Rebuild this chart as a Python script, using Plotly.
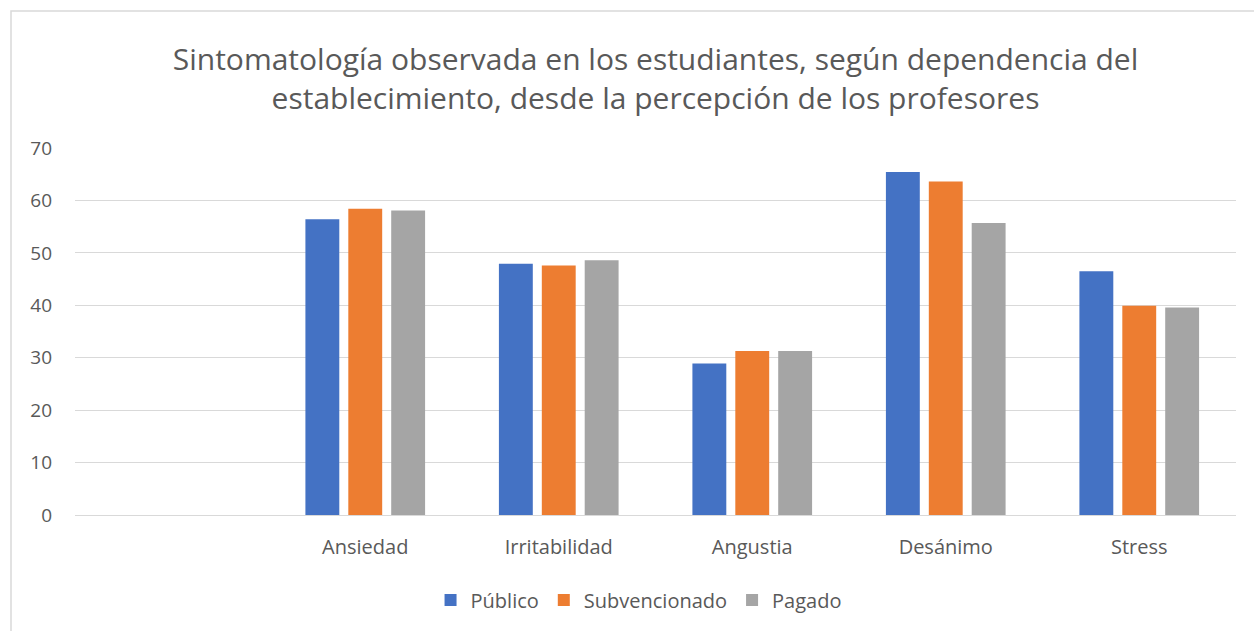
import plotly.graph_objects as go

categories = ["", "Ansiedad", "Irritabilidad", "Angustia", "Desánimo", "Stress"]
publico = [None, 56.4, 47.9, 28.9, 65.4, 46.5]
subvencionado = [None, 58.4, 47.6, 31.3, 63.6, 39.9]
pagado = [None, 58.1, 48.6, 31.3, 55.7, 39.6]
series_names = ["Público", "Subvencionado", "Pagado"]
colors = ["#4472C4", "#ED7D31", "#A5A5A5"]
y_ticks = [0, 10, 20, 30, 40, 50, 60, 70]

xpos = list(range(len(categories)))
fig = go.Figure()
for name, vals, col in zip(series_names, [publico, subvencionado, pagado], colors):
    fig.add_trace(go.Bar(x=xpos, y=vals, name=name, marker=dict(color=col, line=dict(width=0))))

W, H = 1254, 631
ml, mr, mt, mb = 75, 18, 148, 116
fig.update_layout(
    width=W, height=H,
    margin=dict(l=ml, r=mr, t=mt, b=mb),
    paper_bgcolor="white", plot_bgcolor="white",
    font=dict(family="Open Sans", color="#595959", size=19),
    barmode="group", bargap=0.335, bargroupgap=0.21,
    title=dict(text="Sintomatología observada en los estudiantes, según dependencia del<br>establecimiento, desde la percepción de los profesores",
               x=0.5, xref="paper", xanchor="center", y=1 - 70 / H, yanchor="middle",
               font=dict(size=30, color="#595959", family="Open Sans")),
    xaxis=dict(tickvals=xpos, ticktext=categories, range=[-0.5, len(categories) - 0.5],
               showgrid=False, showline=True, linecolor="#D9D9D9", linewidth=1, ticks="",
               tickfont=dict(size=20), ticklabelstandoff=14),
    yaxis=dict(range=[0, 70], tickvals=y_ticks, showgrid=True, gridcolor="#D9D9D9", gridwidth=1,
               zeroline=False, ticks="", tickfont=dict(size=19), ticklabelstandoff=22),
    legend=dict(orientation="h", x=0.4854, xanchor="center", y=-(600 - 515) / (515 - 148), yanchor="middle",
                font=dict(size=20), itemwidth=30, traceorder="normal"),
    showlegend=True,
)
fig.add_shape(type="rect", xref="paper", yref="paper",
              x0=(11 - ml) / (W - ml - mr), x1=(W + 5 - ml) / (W - ml - mr),
              y0=-(H + 5 - (H - mb)) / (H - mt - mb), y1=(H - mb - 11) / (H - mt - mb),
              line=dict(color="#D9D9D9", width=1.5), layer="below")
fig.write_html("out.html", config={"displayModeBar": False},
               post_script="document.body.style.margin='0';document.body.style.overflow='hidden';")
